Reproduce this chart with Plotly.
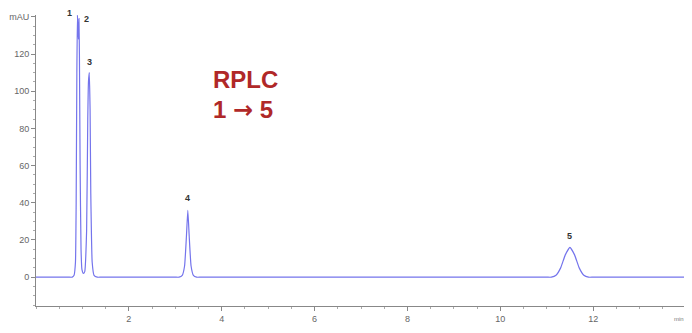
import plotly.graph_objects as go

# Chromatogram trace (time in min, absorbance in mAU)
time_min = [0, 0.70, 0.78, 0.82, 0.85, 0.865, 0.88, 0.893, 0.905, 0.915, 0.925, 0.935, 0.95, 0.97, 0.99,
            1.02, 1.05, 1.09, 1.115, 1.13, 1.148, 1.165, 1.18, 1.21, 1.25, 1.32, 1.40, 2.2,
            3.00, 3.08, 3.15, 3.20, 3.24, 3.27, 3.30, 3.34, 3.39, 3.46, 3.55, 7.0,
            11.00, 11.10, 11.20, 11.30, 11.40, 11.50, 11.60, 11.70, 11.80, 11.90, 12.0, 14.0]
absorb_mau = [0, 0, 0, 1, 8, 40, 110, 141, 132, 128, 139, 120, 60, 15, 4,
              2, 3, 25, 85, 105, 110, 90, 45, 8, 1, 0, 0, 0,
              0, 0, 1, 6, 22, 36, 22, 6, 1, 0, 0, 0,
              0, 0, 1, 5, 12, 16, 12, 5, 1, 0, 0, 0]

peak_ids = ["1", "2", "3", "4", "5"]
peak_time = [0.893, 0.925, 1.148, 3.27, 11.50]
peak_height = [141, 139, 110, 36, 16]

y_ticks = [0, 20, 40, 60, 80, 100, 120, 140]
y_ticktext = ["0", "20", "40", "60", "80", "100", "120", "mAU"]
x_ticks = [2, 4, 6, 8, 10, 12]

label_shift_x = [-8, 8, 0, 0, 0]
label_shift_y = [2, 0, 11, 12, 11]

fig = go.Figure()
fig.add_trace(go.Scatter(x=time_min, y=absorb_mau, mode="lines",
                         line=dict(color="#7474ec", width=1.2, shape="spline", smoothing=0.4),
                         hoverinfo="skip", showlegend=False))

for pid, t, h, dx, dy in zip(peak_ids, peak_time, peak_height, label_shift_x, label_shift_y):
    fig.add_annotation(x=t, y=h, text="<b>" + pid + "</b>", showarrow=False,
                       xshift=dx, yshift=dy, xanchor="center", yanchor="middle", borderpad=0,
                       font=dict(family="Liberation Sans", size=9, color="#333333"))

fig.add_annotation(x=0.323, y=0.777, xref="paper", yref="paper", text="<b>RPLC</b>",
                   showarrow=False, xanchor="center", yanchor="middle",
                   font=dict(family="Liberation Sans", size=24, color="#b02828"))
fig.add_annotation(x=0.318, y=0.675, xref="paper", yref="paper",
                   text="<b>1 <span style='font-family:DejaVu Sans'>→</span> 5</b>",
                   showarrow=False, xanchor="center", yanchor="middle",
                   font=dict(family="Liberation Sans", size=24, color="#b02828"))
fig.add_annotation(x=0.989, y=-0.045, xref="paper", yref="paper", text="min",
                   showarrow=False, yanchor="middle", xanchor="center",
                   font=dict(family="Liberation Sans", size=6, color="#777777"))

axis_font = dict(family="Liberation Sans", size=9, color="#666666")
fig.update_layout(
    width=692, height=333,
    margin=dict(l=28, r=14, t=7, b=35, autoexpand=False),
    plot_bgcolor="white", paper_bgcolor="white",
    xaxis=dict(range=[0, 14], tickvals=x_ticks, showgrid=False, zeroline=False, automargin=False,
               showline=True, linecolor="#888888", linewidth=1,
               ticks="outside", ticklen=4, tickcolor="#888888", tickfont=axis_font,
               minor=dict(dtick=0.5, tick0=0, ticks="outside", ticklen=2, tickcolor="#aaaaaa")),
    yaxis=dict(range=[-15.5, 141], tickvals=y_ticks, ticktext=y_ticktext,
               showgrid=False, zeroline=False, automargin=False,
               showline=True, linecolor="#888888", linewidth=1,
               ticks="outside", ticklen=4, tickcolor="#888888", tickfont=axis_font,
               minor=dict(dtick=5, tick0=0, ticks="outside", ticklen=2, tickcolor="#aaaaaa")),
)

fig.write_html("out.html")
